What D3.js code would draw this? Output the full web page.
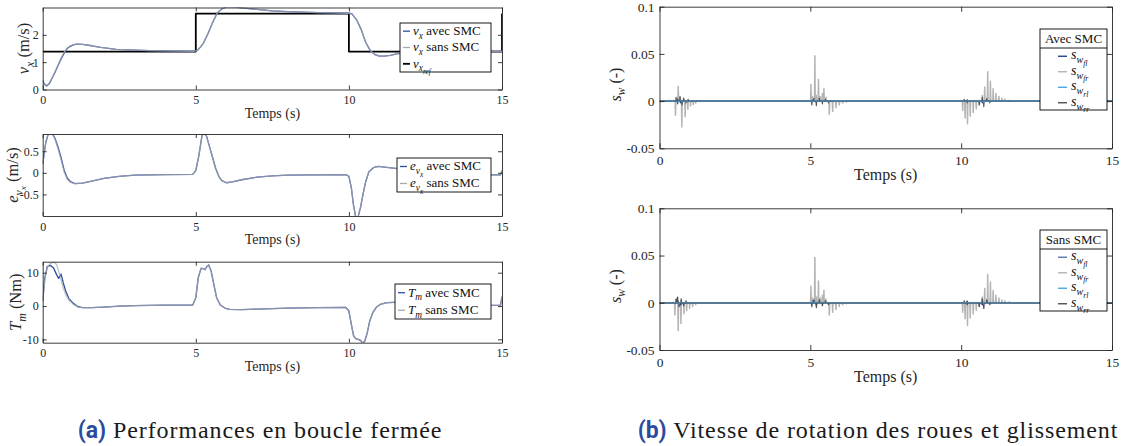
<!DOCTYPE html>
<html><head><meta charset="utf-8">
<script src="https://cdn.jsdelivr.net/npm/d3@7"></script>
<style>body{margin:0;background:#fff}svg{display:block}</style>
</head><body>
<svg id="chart" width="1130" height="446"></svg>
<script>
// ---------------- DATA ----------------
const timeTicks = [0, 5, 10, 15];

// (a) panel 1 : v_x
const vxTime = [0,0.05,0.13,0.22,0.3,0.4,0.5,0.6,0.7,0.8,0.9,1.0,1.1,1.3,1.6,1.9,2.4,3.0,3.5,4.0,4.5,4.95,5.05,5.15,5.25,5.4,5.55,5.7,5.85,6.0,6.2,6.5,7.0,7.5,8.0,8.5,9.0,9.5,10.0,10.1,10.25,10.4,10.55,10.7,10.85,11.0,11.15,11.35,11.6,12.0,12.5,13.0,13.5,14.0,14.6,15.0];
const vxAvec = [0.34,0.2,0.13,0.22,0.4,0.62,0.88,1.12,1.33,1.5,1.58,1.63,1.66,1.65,1.6,1.54,1.47,1.44,1.42,1.41,1.405,1.4,1.43,1.55,1.7,2.05,2.45,2.8,2.95,3.02,3.02,2.99,2.93,2.88,2.85,2.83,2.81,2.8,2.79,2.77,2.55,2.2,1.72,1.42,1.28,1.22,1.22,1.25,1.31,1.36,1.39,1.4,1.4,1.4,1.4,1.4];
const vxSans = [0.36,0.22,0.15,0.24,0.42,0.64,0.9,1.15,1.36,1.52,1.6,1.64,1.66,1.65,1.6,1.54,1.47,1.44,1.42,1.41,1.405,1.4,1.43,1.55,1.7,2.05,2.45,2.8,2.95,3.02,3.02,2.99,2.93,2.88,2.85,2.83,2.81,2.8,2.79,2.77,2.55,2.2,1.72,1.42,1.28,1.22,1.22,1.25,1.31,1.36,1.39,1.4,1.4,1.4,1.4,1.4];
const vrefTime = [0,5,5,10,10,15,15];
const vrefVal  = [1.389,1.389,2.778,2.778,1.389,1.389,2.778];
const vxTicks = [0, 1, 2];

// (a) panel 2 : e_vx
const evTime = [0,0.1,0.2,0.3,0.4,0.5,0.6,0.7,0.8,0.9,1.05,1.3,1.6,2.0,2.5,3.0,3.5,4.0,4.9,5.0,5.1,5.2,5.27,5.35,5.45,5.55,5.65,5.75,5.85,6.0,6.2,6.5,7.0,7.5,8.0,9.0,9.9,10.0,10.08,10.15,10.22,10.3,10.38,10.46,10.55,10.65,10.8,10.95,11.1,11.3,11.6,12.0,12.5,13.0,13.5,14.0,14.5,14.95,15.0];
const evAvec = [0.2,0.7,0.95,0.93,0.8,0.6,0.35,0.06,-0.12,-0.2,-0.25,-0.24,-0.19,-0.13,-0.08,-0.055,-0.045,-0.04,-0.035,0.05,0.4,0.85,0.93,0.85,0.6,0.35,0.1,-0.08,-0.18,-0.23,-0.21,-0.16,-0.1,-0.07,-0.055,-0.045,-0.04,-0.08,-0.35,-0.75,-1.02,-1.02,-0.8,-0.5,-0.2,0.02,0.12,0.15,0.14,0.12,0.1,0.06,0.02,-0.01,-0.03,-0.04,-0.045,-0.045,0.05];
const evSans = [0.2,0.72,0.96,0.94,0.78,0.56,0.3,0.02,-0.15,-0.22,-0.25,-0.24,-0.19,-0.13,-0.08,-0.055,-0.045,-0.04,-0.035,0.05,0.4,0.85,0.93,0.85,0.6,0.35,0.1,-0.08,-0.18,-0.23,-0.21,-0.16,-0.1,-0.07,-0.055,-0.045,-0.04,-0.08,-0.35,-0.75,-1.02,-1.02,-0.8,-0.5,-0.2,0.02,0.12,0.15,0.14,0.12,0.1,0.06,0.02,-0.01,-0.03,-0.04,-0.045,-0.045,0.05];
const evTicks = [-0.5, 0, 0.5];

// (a) panel 3 : T_m
const tmTime = [0,0.07,0.15,0.25,0.35,0.45,0.52,0.6,0.67,0.75,0.85,1.0,1.15,1.3,1.6,2.0,2.5,3.0,4.0,4.9,5.0,5.08,5.17,5.25,5.3,5.36,5.42,5.5,5.6,5.68,5.8,5.95,6.1,6.5,7.0,8.0,9.0,9.9,10.0,10.08,10.15,10.22,10.3,10.38,10.45,10.52,10.6,10.68,10.78,10.9,11.05,11.25,11.5,12.0,12.5,13.0,14.0,14.7,14.95,15.0];
const tmAvec = [1.5,8.5,11.8,12.2,11.5,9.5,8.3,9.6,7.0,4.5,2.3,0.8,-0.2,-0.5,-0.5,-0.3,0,0.1,0.25,0.3,2.5,8.5,11.3,11.2,10.9,11.8,12.3,10.5,6.0,2.5,0.3,-0.6,-1.0,-1.1,-0.9,-0.6,-0.5,-0.4,-1.5,-5.5,-8.8,-9.8,-10.0,-10.3,-11.2,-10.5,-8.0,-4.5,-2.0,-0.3,0.6,1.0,1.1,1.1,0.9,0.6,0.3,0.2,0.2,2.8];
const tmSans = [1.5,8.0,11.5,12.8,13.2,12.5,10.5,8.0,5.5,3.5,1.8,0.5,-0.3,-0.5,-0.5,-0.3,0,0.1,0.25,0.3,2.5,8.5,11.3,11.2,10.9,11.8,12.3,10.5,6.0,2.5,0.3,-0.6,-1.0,-1.1,-0.9,-0.6,-0.5,-0.4,-1.5,-5.5,-8.8,-9.8,-10.0,-10.3,-11.2,-10.5,-8.0,-4.5,-2.0,-0.3,0.6,1.0,1.1,1.1,0.9,0.6,0.3,0.2,0.2,2.8];
const tmTicks = [-10, 0, 10];

// (b) slip s_w : spike times and amplitudes (zero in between)
const swTicks = [-0.05, 0, 0.05, 0.1];
// Avec SMC
const avFrT = [0.53,0.59,0.62,0.68,0.74,0.8,0.85,0.94,1.03,1.12,1.2, 5.02,5.07,5.15,5.2,5.27,5.33,5.4,5.45,5.52,5.63,5.74,5.85,5.96,6.07,6.2, 10.05,10.13,10.21,10.3,10.4,10.5,10.6,10.7,10.78,10.88,10.97,11.06,11.15,11.25,11.35,11.45,11.6];
const avFrV = [-0.015,0.004,0.0157,0.0035,-0.0275,0.003,-0.0165,-0.0087,-0.0052,-0.0035,-0.002, 0.0175,0.005,0.048,0.006,0.023,0.005,0.008,0.0133,0.004,-0.014,-0.011,-0.007,-0.004,-0.002,-0.001, -0.01,-0.018,-0.024,-0.016,-0.012,-0.008,-0.004,0.006,0.015,0.031,0.021,0.013,0.008,0.005,0.003,0.002,0.001];
const avRrT = [0.55,0.6,0.68,0.75,0.8,0.88,0.95, 5.05,5.12,5.2,5.3,5.4,5.5,5.6, 10.1,10.2,10.6,10.7,10.75,10.85,10.95];
const avRrV = [0.004,-0.003,0.005,-0.004,0.003,-0.002,0.002, -0.004,0.003,-0.005,0.003,-0.003,0.002,-0.002, 0.002,-0.002,-0.004,0.004,-0.006,0.003,-0.002];
const avFlT = [0.6,0.7,5.1,5.2,10.2,10.7];
const avFlV = [0.002,-0.002,0.002,-0.002,0.0015,-0.002];
const avRlT = [0.65,5.15,10.75];
const avRlV = [-0.0015,0.0015,-0.0015];
// Sans SMC
const saFrT = [0.51,0.57,0.62,0.71,0.81,0.9,1.0,1.1,1.2, 5.02,5.07,5.15,5.2,5.27,5.33,5.4,5.45,5.52,5.63,5.74,5.85,5.96,6.07,6.2, 10.05,10.13,10.21,10.3,10.4,10.5,10.6,10.7,10.78,10.88,10.97,11.06,11.15,11.25,11.35,11.45,11.6];
const saFrV = [-0.013,0.003,-0.0297,-0.022,-0.0115,-0.0085,-0.0057,-0.004,-0.002, 0.0175,0.005,0.048,0.006,0.023,0.005,0.008,0.0133,0.004,-0.013,-0.01,-0.007,-0.004,-0.002,-0.001, -0.01,-0.017,-0.024,-0.016,-0.012,-0.008,-0.004,0.006,0.015,0.03,0.022,0.013,0.008,0.005,0.003,0.002,0.001];
const saRrT = [0.55,0.6,0.65,0.72,0.8,0.88, 5.05,5.12,5.2,5.3,5.4,5.5,5.6, 10.1,10.2,10.6,10.7,10.75,10.85,10.95];
const saRrV = [0.004,0.006,-0.004,0.004,-0.003,0.002, -0.004,0.003,-0.005,0.003,-0.003,0.002,-0.002, 0.002,-0.002,-0.004,0.004,-0.006,0.003,-0.002];
const saFlT = [0.6,0.7,5.1,5.2,10.2,10.7];
const saFlV = [0.002,-0.002,0.002,-0.002,0.0015,-0.002];
const saRlT = [0.65,5.15,10.75];
const saRlV = [-0.0015,0.0015,-0.0015];

// ---------------- DRAWING ----------------
const svg = d3.select("#chart");
const SERIF = "'Liberation Serif', 'Times New Roman', 'DejaVu Serif', serif";
const FRAME = "#262626";
const BLUE = "#2a4ea6", GRAY = "#a9a9a9";
let clipId = 0;

function zip(ts, vs) { return ts.map((t, i) => [t, vs[i]]); }
function spikes(ts, vs) {
  const pts = [[0, 0]];
  ts.forEach((t, i) => { pts.push([t - 0.012, 0], [t, vs[i]], [t + 0.012, 0]); });
  pts.push([15, 0]);
  return pts;
}

// rich text with italic + nested subscripts
function rich(sel, parts, fs) {
  const off = [0, 0.28 * fs, 0.48 * fs];
  const size = [fs, fs * 0.72, fs * 0.56];
  let cur = 0;
  parts.forEach(p => {
    const lvl = p.s || 0;
    sel.append("tspan")
      .attr("dy", off[lvl] - off[cur])
      .attr("font-size", size[lvl])
      .attr("font-style", p.i ? "italic" : "normal")
      .text(p.t);
    cur = lvl;
  });
}

function panel(o) {
  const x = d3.scaleLinear().domain([0, 15]).range([o.x0, o.x1]);
  const y = d3.scaleLinear().domain(o.yDomain).range([o.y1, o.y0]);
  const g = svg.append("g");
  const id = "clip" + (clipId++);
  g.append("clipPath").attr("id", id).append("rect")
    .attr("x", o.x0).attr("y", o.y0).attr("width", o.x1 - o.x0).attr("height", o.y1 - o.y0);
  const plot = g.append("g").attr("clip-path", `url(#${id})`);
  const line = d3.line().x(d => x(d[0])).y(d => y(d[1]));
  o.series.forEach(s => {
    plot.append("path").attr("d", line(s.pts)).attr("fill", "none")
      .attr("stroke", s.color).attr("stroke-width", s.w).attr("stroke-opacity", s.op || 1)
      .attr("stroke-linejoin", "round");
  });
  const tl = o.tickLen;
  const style = a => {
    a.select(".domain").attr("stroke", FRAME).attr("stroke-width", 0.9);
    a.selectAll(".tick line").attr("stroke", FRAME).attr("stroke-width", 0.9);
    a.selectAll("text").attr("font-family", SERIF).attr("font-size", o.tickFs).attr("fill", FRAME);
    a.attr("font-family", null);
  };
  g.append("g").attr("transform", `translate(0,${o.y1})`)
    .call(d3.axisBottom(x).tickValues(timeTicks).tickFormat(d3.format("d")).tickSizeInner(-tl).tickSizeOuter(0).tickPadding(o.xPad))
    .call(style);
  g.append("g").attr("transform", `translate(0,${o.y0})`)
    .call(d3.axisTop(x).tickValues(timeTicks).tickFormat("").tickSizeInner(-tl).tickSizeOuter(0))
    .call(style);
  g.append("g").attr("transform", `translate(${o.x0},0)`)
    .call(d3.axisLeft(y).tickValues(o.yTicks).tickFormat(o.yFmt).tickSizeInner(-tl).tickSizeOuter(0).tickPadding(o.yPad))
    .call(style);
  g.append("g").attr("transform", `translate(${o.x1},0)`)
    .call(d3.axisRight(y).tickValues(o.yTicks).tickFormat("").tickSizeInner(-tl).tickSizeOuter(0))
    .call(style);
  // x label
  g.append("text").attr("x", (o.x0 + o.x1) / 2).attr("y", o.y1 + o.xLabDy)
    .attr("text-anchor", "middle").attr("font-family", SERIF).attr("font-size", o.labFs)
    .attr("fill", FRAME).text("Temps (s)");
  // y label
  const yl = g.append("text").attr("text-anchor", "middle").attr("font-family", SERIF)
    .attr("font-size", o.yLabFs).attr("fill", FRAME)
    .attr("transform", `translate(${o.yLabX},${(o.y0 + o.y1) / 2 + (o.yLabOff || 0)}) rotate(-90)`);
  rich(yl, o.yLabel, o.yLabFs);
  return { x, y, g };
}

function legendLeft(box, items, fs) {
  const g = svg.append("g");
  g.append("rect").attr("x", box[0]).attr("y", box[1]).attr("width", box[2] - box[0]).attr("height", box[3] - box[1])
    .attr("fill", "#fff").attr("stroke", "#000").attr("stroke-width", 0.9);
  const n = items.length;
  const step = (box[3] - box[1]) / n;
  items.forEach((it, i) => {
    const cy = box[1] + step * (i + 0.5);
    g.append("line").attr("x1", box[0] + 3).attr("x2", box[0] + 10).attr("y1", cy).attr("y2", cy)
      .attr("stroke", it.color).attr("stroke-width", it.w);
    const t = g.append("text").attr("x", box[0] + 13).attr("y", cy + fs * 0.3)
      .attr("font-family", SERIF).attr("font-size", fs).attr("fill", "#111");
    rich(t, it.label, fs);
  });
}

function legendRight(box, title, divY, items, fs) {
  const g = svg.append("g");
  g.append("rect").attr("x", box[0]).attr("y", box[1]).attr("width", box[2] - box[0]).attr("height", box[3] - box[1])
    .attr("fill", "#fff").attr("stroke", "#000").attr("stroke-width", 0.9);
  g.append("line").attr("x1", box[0]).attr("x2", box[2]).attr("y1", divY).attr("y2", divY)
    .attr("stroke", "#000").attr("stroke-width", 0.9);
  g.append("text").attr("x", (box[0] + box[2]) / 2).attr("y", (box[1] + divY) / 2 + fs * 0.33)
    .attr("text-anchor", "middle").attr("font-family", SERIF).attr("font-size", fs).attr("fill", "#111").text(title);
  const step = (box[3] - divY) / items.length;
  items.forEach((it, i) => {
    const cy = divY + step * (i + 0.5) + 0.5;
    g.append("line").attr("x1", box[0] + 18).attr("x2", box[0] + 27).attr("y1", cy).attr("y2", cy)
      .attr("stroke", it.color).attr("stroke-width", 1.4);
    const t = g.append("text").attr("x", box[0] + 31).attr("y", cy + 3)
      .attr("font-family", SERIF).attr("font-size", 14).attr("fill", "#111");
    rich(t, it.label, 14);
  });
}

const fmtDefault = d => (d < 0 ? "-" : "") + String(Math.abs(d));

// ---- (a) ----
const L = { x0: 42.7, x1: 502, tickLen: 4, tickFs: 12, labFs: 14, yLabFs: 16.5, xPad: 6, yPad: 4, xLabDy: 28, yFmt: fmtDefault };
panel({ ...L, y0: 7.5, y1: 89.5, yDomain: [0, 3], yTicks: vxTicks, yLabX: 29,
  yLabel: [{ t: "v", i: 1 }, { t: "x", i: 1, s: 1 }, { t: " (m/s)" }],
  series: [
    { pts: zip(vrefTime, vrefVal), color: "#000", w: 1.8 },
    { pts: zip(vxTime, vxAvec), color: BLUE, w: 1.3 },
    { pts: zip(vxTime, vxSans), color: GRAY, w: 1.3, op: 0.75 }
  ] });
legendLeft([400, 23, 491, 72], [
  { color: BLUE, w: 1.3, label: [{ t: "v", i: 1 }, { t: "x", i: 1, s: 1 }, { t: " avec SMC" }] },
  { color: GRAY, w: 1.3, label: [{ t: "v", i: 1 }, { t: "x", i: 1, s: 1 }, { t: " sans SMC" }] },
  { color: "#000", w: 1.8, label: [{ t: "v", i: 1 }, { t: "x", i: 1, s: 1 }, { t: "ref", i: 1, s: 2 }] }
], 13);

panel({ ...L, y0: 134, y1: 216, yDomain: [-1, 0.9], yTicks: evTicks, yLabX: 18,
  yLabel: [{ t: "e", i: 1 }, { t: "v", i: 1, s: 1 }, { t: "x", i: 1, s: 2 }, { t: " (m/s)" }],
  series: [
    { pts: zip(evTime, evAvec), color: BLUE, w: 1.3 },
    { pts: zip(evTime, evSans), color: GRAY, w: 1.3, op: 0.75 }
  ] });
legendLeft([397, 158, 491, 192], [
  { color: BLUE, w: 1.3, label: [{ t: "e", i: 1 }, { t: "v", i: 1, s: 1 }, { t: "x", i: 1, s: 2 }, { t: " avec SMC" }] },
  { color: GRAY, w: 1.3, label: [{ t: "e", i: 1 }, { t: "v", i: 1, s: 1 }, { t: "x", i: 1, s: 2 }, { t: " sans SMC" }] }
], 13);

panel({ ...L, y0: 261.7, y1: 342.7, yDomain: [-11, 13.3], yTicks: tmTicks, yLabX: 21,
  yLabel: [{ t: "T", i: 1 }, { t: "m", i: 1, s: 1 }, { t: " (Nm)" }],
  series: [
    { pts: zip(tmTime, tmAvec), color: BLUE, w: 1.3 },
    { pts: zip(tmTime, tmSans), color: GRAY, w: 1.3, op: 0.75 }
  ] });
legendLeft([395, 284, 491, 319], [
  { color: BLUE, w: 1.3, label: [{ t: "T", i: 1 }, { t: "m", i: 1, s: 1 }, { t: " avec SMC" }] },
  { color: GRAY, w: 1.3, label: [{ t: "T", i: 1 }, { t: "m", i: 1, s: 1 }, { t: " sans SMC" }] }
], 13);

// ---- (b) ----
const C_FL = "#23418f", C_FR = "#b4b4b4", C_RL = "#4aa6e0", C_RR = "#505050";
const R = { x0: 659.5, x1: 1112, tickLen: 5, tickFs: 13.5, labFs: 16, yLabFs: 16, xPad: 7, yPad: 5, xLabDy: 32,
  yFmt: d => (d < 0 ? "-" : "") + String(Math.abs(d)), yLabX: 621, yLabOff: 7,
  yDomain: [-0.05, 0.1], yTicks: swTicks,
  yLabel: [{ t: "s", i: 1 }, { t: "w", i: 1, s: 1 }, { t: " (-)" }] };
const swItems = [
  { color: C_FL, label: [{ t: "s", i: 1 }, { t: "w", i: 1, s: 1 }, { t: "fl", i: 1, s: 2 }] },
  { color: C_FR, label: [{ t: "s", i: 1 }, { t: "w", i: 1, s: 1 }, { t: "fr", i: 1, s: 2 }] },
  { color: C_RL, label: [{ t: "s", i: 1 }, { t: "w", i: 1, s: 1 }, { t: "rl", i: 1, s: 2 }] },
  { color: C_RR, label: [{ t: "s", i: 1 }, { t: "w", i: 1, s: 1 }, { t: "rr", i: 1, s: 2 }] }
];
panel({ ...R, y0: 6.7, y1: 148.3,
  series: [
    { pts: spikes(avFrT, avFrV), color: C_FR, w: 1.5 },
    { pts: spikes(avFlT, avFlV), color: C_FL, w: 1.1 },
    { pts: spikes(avRrT, avRrV), color: C_RR, w: 1.1 },
    { pts: spikes(avRlT, avRlV), color: C_RL, w: 1.0, op: 0.8 }
  ] });
legendRight([1040, 29, 1107, 110], "Avec SMC", 48, swItems, 13);

panel({ ...R, y0: 208.3, y1: 350,
  series: [
    { pts: spikes(saFrT, saFrV), color: C_FR, w: 1.5 },
    { pts: spikes(saFlT, saFlV), color: C_FL, w: 1.6 },
    { pts: spikes(saRrT, saRrV), color: C_RR, w: 1.3 },
    { pts: spikes(saRlT, saRlV), color: C_RL, w: 1.2, op: 0.7 }
  ] });
legendRight([1040, 230, 1107, 311], "Sans SMC", 249,
  swItems.map((d, i) => i === 0 ? { ...d, color: "#5a77aa" } : d), 13);

// ---- captions ----
function caption(cx, tag, txt) {
  const t = svg.append("text").attr("x", cx).attr("y", 438).attr("text-anchor", "middle");
  t.append("tspan").attr("font-family", "Roboto, 'Liberation Sans', sans-serif").attr("font-weight", "bold")
    .attr("font-size", 23).attr("fill", "#2d4b9d").text(tag);
  t.append("tspan").attr("font-family", SERIF).attr("font-size", 24).attr("letter-spacing", 0.9)
    .attr("fill", "#1a1a1a").text(" " + txt);
}
caption(260, "(a)", "Performances en boucle fermée");
caption(878, "(b)", "Vitesse de rotation des roues et glissement");
</script>
</body></html>
